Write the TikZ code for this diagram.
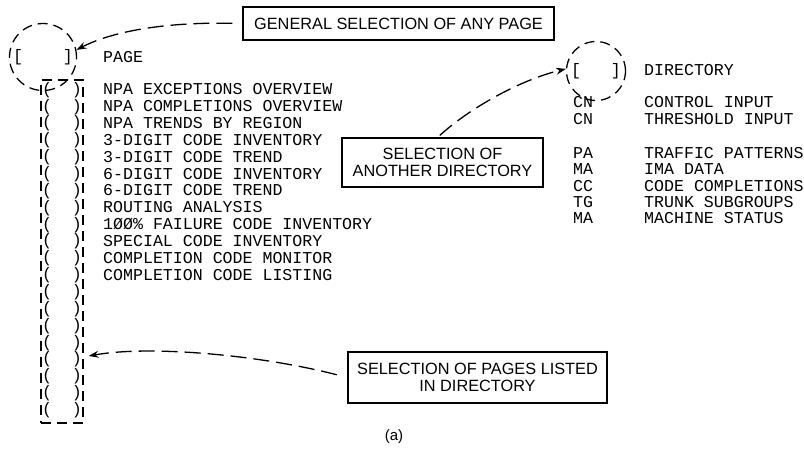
\documentclass[tikz,border=0pt]{standalone}
\usepackage{fontspec}
\setmainfont{Liberation Sans}
\newfontfamily\typewriter{Liberation Mono}
\usetikzlibrary{arrows.meta, shapes.geometric, positioning}

\begin{document}
\begin{tikzpicture}[x=1pt, y=-1pt,
  label box/.style={draw, line width=1.1pt, font=\fontsize{16.3}{17.5}\selectfont, align=center, inner sep=0pt},
  mono/.style={font=\typewriter\fontsize{16.6}{17}\selectfont, inner sep=0pt},
  sel/.style={draw, line width=1.3pt, dash pattern=on 10pt off 6pt},
  pointer/.style={draw, line width=1.3pt, dash pattern=on 16pt off 7pt, -{Stealth[length=10pt, width=7pt]}}]
\useasboundingbox (0,0) rectangle (804,449);

\node[label box, minimum width=311pt, minimum height=33pt] (general) at (398.5,23.5) {GENERAL SELECTION OF ANY PAGE};
\node[label box, minimum width=201pt, minimum height=49pt] (another) at (442.5,162.5) {SELECTION OF\\ANOTHER DIRECTORY};
\node[label box, minimum width=259pt, minimum height=51pt] (pagelist) at (477.5,377.5) {SELECTION OF PAGES LISTED\\IN DIRECTORY};
\node[font=\fontsize{15}{17}\selectfont] (caption) at (394,437) {(a)};

\node[mono, sel, circle, minimum size=67pt] (pagesel) at (43,57) {[~~~~]};
\node[mono, anchor=base west] (pagehead) at (103,63) {PAGE};
\node[sel, minimum width=42pt, minimum height=343pt, inner sep=0pt] (column) at (62,251.5) {};
\foreach \i in {0,...,19}
  \node[mono] (slot\i) at (62,90+16.85*\i) {(~~)};
\foreach \t [count=\i] in {NPA EXCEPTIONS OVERVIEW, NPA COMPLETIONS OVERVIEW, NPA TRENDS BY REGION,
  3-DIGIT CODE INVENTORY, 3-DIGIT CODE TREND, 6-DIGIT CODE INVENTORY, 6-DIGIT CODE TREND,
  ROUTING ANALYSIS, 1ØØ\% FAILURE CODE INVENTORY, SPECIAL CODE INVENTORY,
  COMPLETION CODE MONITOR, COMPLETION CODE LISTING}
  \node[mono, anchor=base west] (page\i) at (103,78+16.85*\i) {\t};

\node[mono, sel, circle, minimum size=59pt] (dirsel) at (596,71) {[~~~]};
\node[mono, anchor=base west] (dirhead) at (644,76) {DIRECTORY};
\foreach \c/\t/\y in {CN/CONTROL INPUT/103, CN/THRESHOLD INPUT/120, PA/TRAFFIC PATTERNS/154,
  MA/IMA DATA/170, CC/CODE COMPLETIONS/187, TG/TRUNK SUBGROUPS/203, MA/MACHINE STATUS/219}
{
  \node[mono, anchor=base west] (code\y) at (573,\y+4.8) {\c};
  \node[mono, anchor=base west] (dir\y) at (644,\y+4.8) {\t};
}

\draw[pointer, shorten <=10pt] (general.west) .. controls (170,22) and (115,30) .. (pagesel.12);
\draw[pointer, shorten <=3pt] ([xshift=-5pt]another.north) .. controls (470,108) and (520,80) .. (dirsel.176);
\draw[pointer, shorten <=11pt] (pagelist.west) .. controls (260,355) and (150,345) .. ([xshift=5pt, yshift=-104.5pt]column.east);
\end{tikzpicture}
\end{document}
